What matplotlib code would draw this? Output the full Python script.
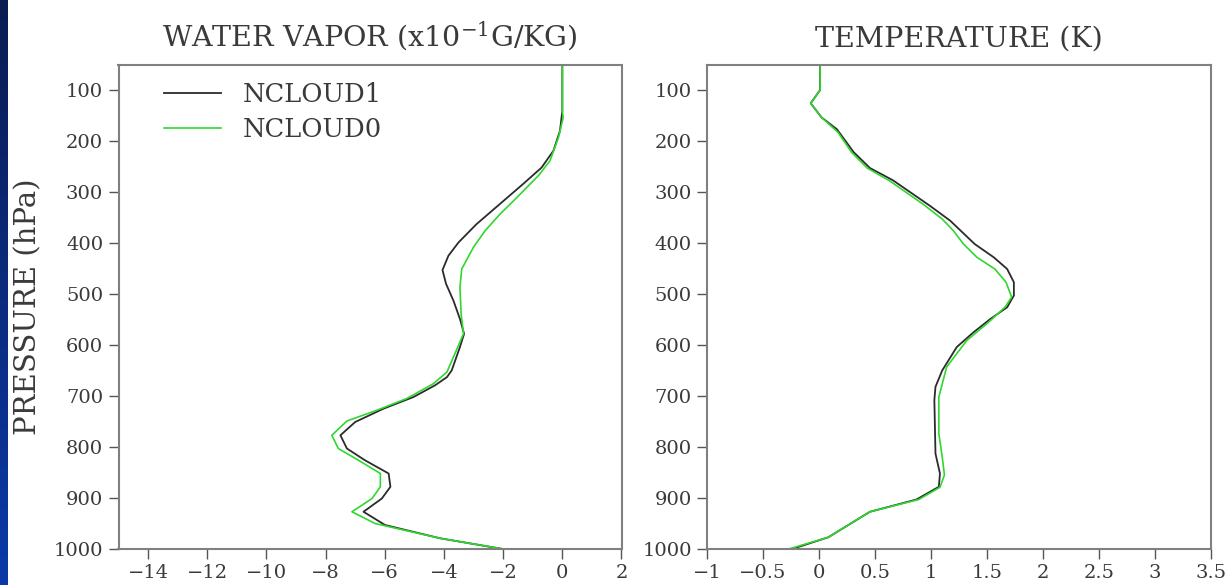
import matplotlib
matplotlib.use("Agg")
import matplotlib.pyplot as plt
import numpy as np

# ---- data: water vapor (x10^-1 g/kg) ----
wv_p_nc1 = [50, 141, 180, 219, 252, 284, 323, 363, 399, 425, 453, 480, 513, 549, 578,
            604, 650, 663, 679, 702, 725, 751, 777, 803, 826, 852, 878, 901, 927, 953, 979, 1000]
wv_nc1 = [0.0, 0.0, -0.08, -0.3, -0.7, -1.32, -2.1, -2.9, -3.51, -3.85, -4.05, -3.93, -3.68, -3.46, -3.32,
          -3.46, -3.74, -3.9, -4.3, -5.03, -6.05, -7.0, -7.5, -7.28, -6.67, -5.87, -5.81, -6.1, -6.72, -5.99, -4.13, -2.01]
wv_p_nc0 = [50, 141, 154, 193, 239, 268, 311, 343, 376, 408, 451, 487, 539, 578, 617,
            653, 676, 705, 728, 749, 777, 803, 826, 852, 878, 901, 927, 950, 979, 1000]
wv_nc0 = [0.0, 0.0, 0.03, -0.13, -0.42, -0.81, -1.54, -2.1, -2.61, -3.0, -3.4, -3.46, -3.42, -3.34, -3.63,
          -3.9, -4.36, -5.26, -6.27, -7.28, -7.79, -7.57, -6.89, -6.15, -6.15, -6.43, -7.11, -6.33, -4.13, -2.0]

# ---- data: temperature (K) ----
t_p_nc1 = [50, 100, 126, 154, 177, 222, 253, 277, 327, 356, 402, 428, 451, 477, 503, 526,
           549, 575, 604, 650, 682, 708, 813, 852, 878, 903, 927, 977, 1000]
t_nc1 = [0.01, 0.01, -0.074, 0.024, 0.16, 0.31, 0.455, 0.66, 0.99, 1.17, 1.39, 1.56, 1.68, 1.74, 1.74, 1.68,
         1.53, 1.38, 1.23, 1.1, 1.04, 1.03, 1.04, 1.08, 1.07, 0.87, 0.455, 0.083, -0.24]
t_p_nc0 = [50, 100, 126, 154, 183, 222, 253, 278, 324, 353, 376, 402, 428, 451, 477, 506, 526,
           558, 591, 643, 702, 774, 819, 855, 879, 903, 927, 977, 1000]
t_nc0 = [0.01, 0.01, -0.074, 0.024, 0.17, 0.29, 0.43, 0.63, 0.93, 1.1, 1.2, 1.29, 1.41, 1.57, 1.67, 1.72, 1.66,
         1.5, 1.32, 1.14, 1.07, 1.07, 1.1, 1.12, 1.08, 0.89, 0.455, 0.083, -0.27]

series_labels = ["NCLOUD1", "NCLOUD0"]
p_ticks = [100, 200, 300, 400, 500, 600, 700, 800, 900, 1000]
wv_ticks = [-14, -12, -10, -8, -6, -4, -2, 0, 2]
t_ticks = [-1, -0.5, 0, 0.5, 1, 1.5, 2, 2.5, 3, 3.5]
t_ticklabels = ["\u22121", "\u22120.5", "0", "0.5", "1", "1.5", "2", "2.5", "3", "3.5"]

plt.rcParams['font.family'] = ['DejaVu Serif']
plt.rcParams['mathtext.fontset'] = 'dejavuserif'

W, H = 1230, 585
fig = plt.figure(figsize=(W / 100, H / 100), dpi=100)
fig.patch.set_facecolor('white')

# dark blue slide edge on the left
grad = np.linspace(0, 1, 256).reshape(-1, 1)
edge_ax = fig.add_axes([0, 0, 8 / W, 1])
edge_ax.imshow(grad, aspect='auto', cmap=matplotlib.colors.LinearSegmentedColormap.from_list(
    'e', ['#0b1c52', '#0a3aa8']), extent=[0, 1, 0, 1], origin='upper')
edge_ax.axis('off')

black = '#2b2b2b'
green = '#2ed82e'
spine_c = '#808080'
text_c = '#3a3a3a'
tick_fs = 14

def style(ax):
    for s in ax.spines.values():
        s.set_color(spine_c)
        s.set_linewidth(1.5)
    ax.tick_params(axis='both', direction='out', length=7, width=1.0, color='#555555',
                   labelsize=tick_fs, labelcolor=text_c, pad=4)
    ax.set_ylim(1000, 50)
    ax.set_yticks(p_ticks)

bot = (H - 549) / H
hgt = (549 - 64.5) / H
ax1 = fig.add_axes([118.5 / W, bot, 503 / W, hgt])
ax2 = fig.add_axes([707 / W, bot, 504 / W, hgt])

ax1.plot(wv_nc1, wv_p_nc1, color=black, lw=1.3, label=series_labels[0])
ax1.plot(wv_nc0, wv_p_nc0, color=green, lw=1.2, label=series_labels[1])
ax1.set_xlim(-15, 2)
ax1.set_xticks(wv_ticks)
style(ax1)
ax1.set_ylabel("PRESSURE (hPa)", fontsize=21, color=text_c, labelpad=8)
ax1.set_title("WATER VAPOR (x10$^{-1}$G/KG)", fontsize=20.5, color=text_c, pad=13)
leg = ax1.legend(loc='upper left', frameon=False, fontsize=18.5, handlelength=2.2,
                 handletextpad=0.85, borderaxespad=0.1, labelspacing=0.4,
                 bbox_to_anchor=(0.065, 0.99))
for t in leg.get_texts():
    t.set_color(text_c)

ax2.plot(t_nc1, t_p_nc1, color=black, lw=1.3)
ax2.plot(t_nc0, t_p_nc0, color=green, lw=1.2)
ax2.set_xlim(-1, 3.5)
ax2.set_xticks(t_ticks)
ax2.set_xticklabels(t_ticklabels)
style(ax2)
ax2.set_title("TEMPERATURE (K)", fontsize=20.5, color=text_c, pad=13)

fig.savefig("out.png", dpi=100, facecolor='white')
